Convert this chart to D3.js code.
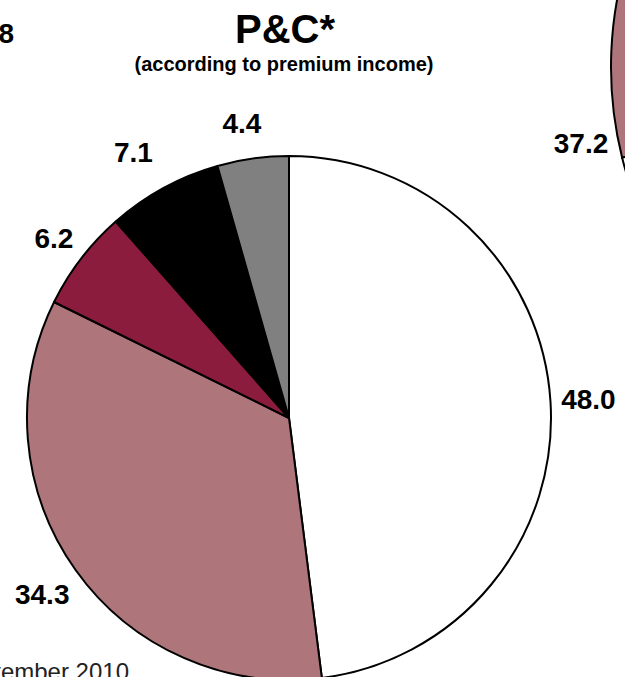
<!DOCTYPE html>
<html>
<head>
<meta charset="utf-8">
<script src="https://cdn.jsdelivr.net/npm/d3@7"></script>
<style>
  html, body { margin: 0; padding: 0; background: #fff; }
  svg { display: block; }
  text { font-family: "Liberation Sans", Arial, sans-serif; }
</style>
</head>
<body>
<svg id="chart" width="625" height="677"></svg>
<script>
// P&C market shares (according to premium income), clockwise from 12 o'clock
const pcLabels = ["48.0", "34.3", "6.2", "7.1", "4.4"];
const pcValues = [48.0, 34.3, 6.2, 7.1, 4.4];
const pcColors = ["#ffffff", "#ae767a", "#8b1c3d", "#000000", "#808080"];

// Neighbouring pie (only its left edge falls inside the view)
const lifeLabels = ["37.2", ""];
const lifeValues = [37.2, 62.8];
const lifeColors = ["#ae767a", "#ffffff"];

const title = "P&C*";
const subtitle = "(according to premium income)";
const sourceNote = "September 2010";
const leftPieLabel = "8";

const svg = d3.select("#chart");

// Main pie
const cx = 289, cy = 418, r = 262;
const pie = d3.pie().sort(null).value(d => d);
const arc = d3.arc().innerRadius(0).outerRadius(r);

const g = svg.append("g").attr("transform", `translate(${cx},${cy})`);
g.selectAll("path")
  .data(pie(pcValues))
  .join("path")
  .attr("d", arc)
  .attr("fill", (d, i) => pcColors[i])
  .attr("stroke", "#000")
  .attr("stroke-width", 2)
  .attr("stroke-linejoin", "round");

// Value labels placed just outside the rim
const labelRadius = [300, 303, 296, 308, 298];
const labelShift = [[0, 0], [0, 0], [0, 0], [-8, 4], [-6, 0]];
pie(pcValues).forEach((d, i) => {
  const a = (d.startAngle + d.endAngle) / 2;
  const lr = labelRadius[i];
  const x = Math.sin(a) * lr + labelShift[i][0];
  const y = -Math.cos(a) * lr + labelShift[i][1];
  g.append("text")
    .attr("x", x)
    .attr("y", y)
    .attr("dy", "0.36em")
    .attr("text-anchor", "middle")
    .attr("font-size", 28)
    .attr("font-weight", "bold")
    .attr("fill", "#000")
    .text(pcLabels[i]);
});

// Neighbouring pie on the right
const cx2 = 986, cy2 = 67, r2 = 375;
const pie2 = d3.pie().sort(null).value(d => d)
  .startAngle(256 * Math.PI / 180)
  .endAngle((256 + 360) * Math.PI / 180);
const arc2 = d3.arc().innerRadius(0).outerRadius(r2);
const g2 = svg.append("g").attr("transform", `translate(${cx2},${cy2})`);
g2.selectAll("path")
  .data(pie2(lifeValues))
  .join("path")
  .attr("d", arc2)
  .attr("fill", (d, i) => lifeColors[i])
  .attr("stroke", "#000")
  .attr("stroke-width", 2);

svg.append("text")
  .attr("x", 581).attr("y", 153)
  .attr("text-anchor", "middle")
  .attr("font-size", 28).attr("font-weight", "bold")
  .text(lifeLabels[0]);

// Fragment of the label from the pie on the left
svg.append("text")
  .attr("x", 14).attr("y", 43)
  .attr("text-anchor", "end")
  .attr("font-size", 28).attr("font-weight", "bold")
  .text(leftPieLabel);

// Title
svg.append("text")
  .attr("x", 285).attr("y", 43)
  .attr("text-anchor", "middle")
  .attr("font-size", 40).attr("font-weight", "bold")
  .text(title);

svg.append("text")
  .attr("x", 284).attr("y", 71)
  .attr("text-anchor", "middle")
  .attr("font-size", 20).attr("font-weight", "bold")
  .text(subtitle);

// Source note
svg.append("text")
  .attr("x", 129).attr("y", 680)
  .attr("text-anchor", "end")
  .attr("font-size", 24)
  .attr("fill", "#222")
  .text(sourceNote);
</script>
</body>
</html>
